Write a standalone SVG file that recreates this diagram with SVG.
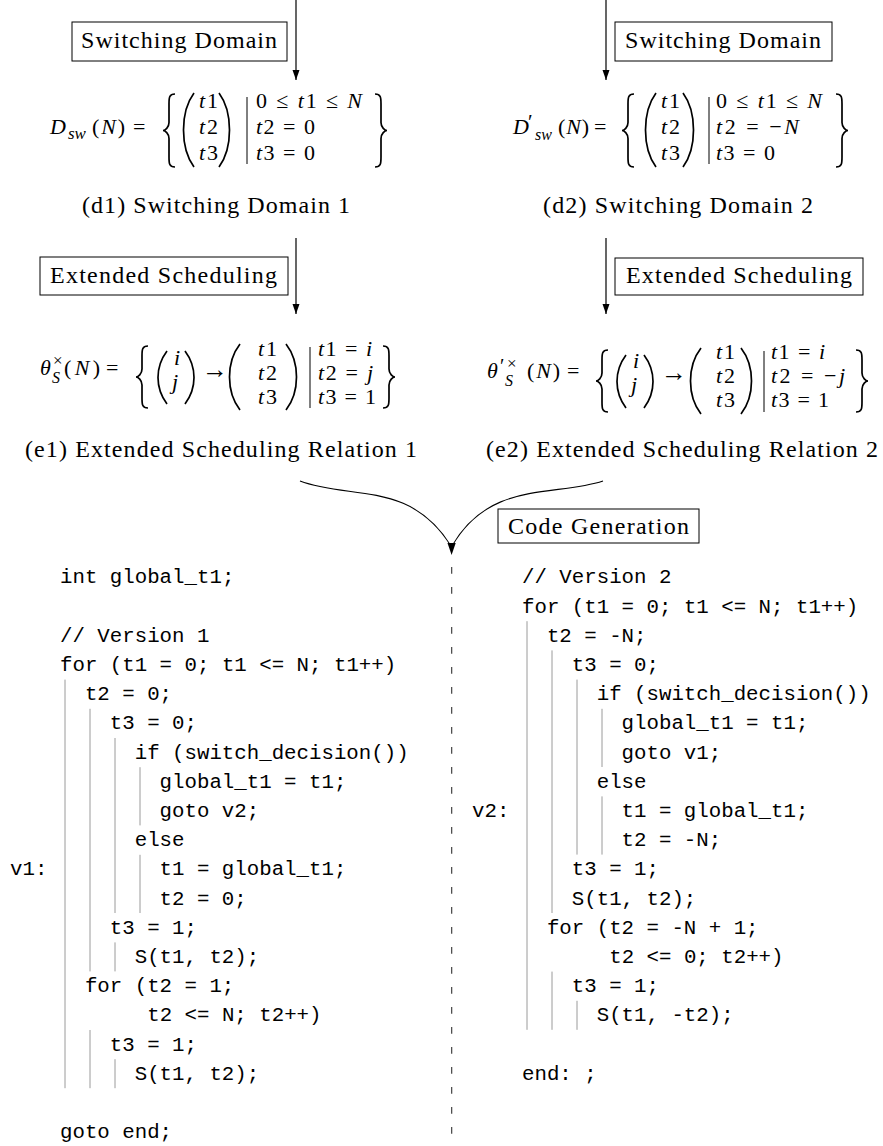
<svg xmlns="http://www.w3.org/2000/svg" width="883" height="1146" viewBox="0 0 883 1146">
<defs>
<style>
.t{font-family:"Liberation Serif","DejaVu Serif",serif;font-size:24px;fill:#000}
.m{font-family:"Liberation Serif","DejaVu Serif",serif;font-size:22px;fill:#000}
.i{font-style:italic}
.c{font-family:"Liberation Mono","DejaVu Sans Mono",monospace;font-size:20.75px;fill:#000}
.box{fill:#fff;stroke:#000;stroke-width:1}
.d{fill:none;stroke:#000;stroke-width:1.7}
.bar{stroke:#000;stroke-width:1}
.g{stroke:#9a9a9a;stroke-width:1}
.arr{fill:none;stroke:#000;stroke-width:1.2;marker-end:url(#ah)}
.cv{fill:none;stroke:#000;stroke-width:1.1}
</style>
<marker id="ah" markerUnits="userSpaceOnUse" markerWidth="11" markerHeight="8" refX="10" refY="3.5" orient="auto">
<path d="M0,0 L10,3.5 L0,7 Z" fill="#000"/>
</marker>
</defs>
<rect width="883" height="1146" fill="#fff"/>

<g id="connectors">
<path class="arr" d="M296,0 L296,80"/>
<path class="arr" d="M606,0 L606,80"/>
<path class="arr" d="M296,238 L296,314"/>
<path class="arr" d="M606,238 L606,314"/>
<path class="cv" d="M300,481 C350,500 410,480 451,546"/>
<path class="cv" d="M603,481 C555,497 490,480 452,546"/>
<path d="M447.5,543 L451.6,555 L455.7,543 Z" fill="#000"/>
<path d="M451.7,567 L451.7,1146" fill="none" stroke="#333" stroke-width="1.1" stroke-dasharray="6.7 13.3"/>
</g>

<g id="label-switching-1">
<rect class="box" x="72" y="22" width="215" height="39"/>
<text class="t" x="81" y="48" textLength="196">Switching Domain</text>
</g>
<g id="label-switching-2">
<rect class="box" x="615" y="22" width="217" height="39"/>
<text class="t" x="625" y="48" textLength="196">Switching Domain</text>
</g>

<g id="domain-1">
<text class="m" x="50" y="134"><tspan class="i">D</tspan><tspan class="i" x="68" y="139" font-size="17">sw</tspan></text>
<text class="m" x="92" y="134" textLength="33">(<tspan class="i">N</tspan>)</text>
<text class="m" x="133" y="134" textLength="15">=</text>
<path class="d" d="M175,94 C169,94 169,98 169,104 L169,122.5 C169,127.5 165,130.5 163,130.5 C165,130.5 169,133.5 169,138.5 L169,157 C169,163 169,167 175,167"/>
<path class="d" d="M194,93 C180,112 180,148 194,167"/>
<text class="m" x="199" y="108" textLength="19"><tspan class="i">t</tspan>1</text>
<text class="m" x="199" y="134" textLength="19"><tspan class="i">t</tspan>2</text>
<text class="m" x="199" y="160" textLength="19"><tspan class="i">t</tspan>3</text>
<path class="d" d="M219,93 C233,112 233,148 219,167"/>
<line class="bar" x1="247" y1="97" x2="247" y2="164"/>
<text class="m" x="256" y="108" textLength="106">0 ≤ <tspan class="i">t</tspan>1 ≤ <tspan class="i">N</tspan></text>
<text class="m" x="256" y="134" textLength="59"><tspan class="i">t</tspan>2 = 0</text>
<text class="m" x="256" y="160" textLength="59"><tspan class="i">t</tspan>3 = 0</text>
<path class="d" d="M375,94 C381,94 381,98 381,104 L381,122.5 C381,127.5 385,130.5 387,130.5 C385,130.5 381,133.5 381,138.5 L381,157 C381,163 381,167 375,167"/>
<text class="t" x="82" y="213" textLength="268">(d1) Switching Domain 1</text>
</g>

<g id="domain-2">
<text class="m" x="513" y="134"><tspan class="i">D</tspan><tspan x="528" y="129" font-size="21">′</tspan><tspan class="i" x="535" y="140" font-size="16">sw</tspan></text>
<text class="m" x="558" y="134" textLength="31">(<tspan class="i">N</tspan>)</text>
<text class="m" x="594" y="134" textLength="15">=</text>
<path class="d" d="M634,94 C628,94 628,98 628,104 L628,122.5 C628,127.5 624,130.5 622,130.5 C624,130.5 628,133.5 628,138.5 L628,157 C628,163 628,167 634,167"/>
<path class="d" d="M656,93 C642,112 642,148 656,167"/>
<text class="m" x="661" y="108" textLength="19"><tspan class="i">t</tspan>1</text>
<text class="m" x="661" y="134" textLength="19"><tspan class="i">t</tspan>2</text>
<text class="m" x="661" y="160" textLength="19"><tspan class="i">t</tspan>3</text>
<path class="d" d="M683,93 C697,112 697,148 683,167"/>
<line class="bar" x1="709" y1="97" x2="709" y2="164"/>
<text class="m" x="716" y="108" textLength="106">0 ≤ <tspan class="i">t</tspan>1 ≤ <tspan class="i">N</tspan></text>
<text class="m" x="716" y="134" textLength="83"><tspan class="i">t</tspan>2 = −<tspan class="i">N</tspan></text>
<text class="m" x="716" y="160" textLength="59"><tspan class="i">t</tspan>3 = 0</text>
<path class="d" d="M836,94 C842,94 842,98 842,104 L842,122.5 C842,127.5 846,130.5 848,130.5 C846,130.5 842,133.5 842,138.5 L842,157 C842,163 842,167 836,167"/>
<text class="t" x="543" y="213" textLength="270">(d2) Switching Domain 2</text>
</g>

<g id="label-scheduling-1">
<rect class="box" x="40" y="257" width="248" height="38"/>
<text class="t" x="50" y="283" textLength="227">Extended Scheduling</text>
</g>
<g id="label-scheduling-2">
<rect class="box" x="615" y="258" width="248" height="37"/>
<text class="t" x="626" y="283" textLength="226">Extended Scheduling</text>
</g>

<g id="schedule-1">
<text class="m" x="40" y="375"><tspan class="i">θ</tspan><tspan x="53" y="366" font-size="17">×</tspan><tspan class="i" x="52" y="383" font-size="16">S</tspan></text>
<text class="m" x="64" y="375" textLength="36">(<tspan class="i">N</tspan>)</text>
<text class="m" x="106" y="375" textLength="16">=</text>
<path class="d" d="M148,346 C142,346 142,350 142,356 L142,369 C142,374 138,377 136,377 C138,377 142,380 142,385 L142,398 C142,404 142,408 148,408"/>
<path class="d" d="M167,351 C155,367 155,388 167,404"/>
<text class="m i" x="174" y="365">i</text>
<text class="m i" x="172" y="389">j</text>
<path class="d" d="M185,351 C197,367 197,388 185,404"/>
<text class="m" x="202" y="378" style="font-size:26px" textLength="21">→</text>
<path class="d" d="M240,344 C226,362 226,392 240,410"/>
<text class="m" x="258" y="356" textLength="19"><tspan class="i">t</tspan>1</text>
<text class="m" x="258" y="380" textLength="19"><tspan class="i">t</tspan>2</text>
<text class="m" x="258" y="404" textLength="19"><tspan class="i">t</tspan>3</text>
<path class="d" d="M286,344 C300,362 300,392 286,410"/>
<line class="bar" x1="310" y1="347" x2="310" y2="408"/>
<text class="m" x="318" y="356" textLength="54"><tspan class="i">t</tspan>1 = <tspan class="i">i</tspan></text>
<text class="m" x="318" y="380" textLength="55"><tspan class="i">t</tspan>2 = <tspan class="i">j</tspan></text>
<text class="m" x="318" y="404" textLength="58"><tspan class="i">t</tspan>3 = 1</text>
<path class="d" d="M383,346 C389,346 389,350 389,356 L389,369 C389,374 393,377 395,377 C393,377 389,380 389,385 L389,398 C389,404 389,408 383,408"/>
<text class="t" x="25" y="457" textLength="392">(e1) Extended Scheduling Relation 1</text>
</g>

<g id="schedule-2">
<text class="m" x="487" y="378"><tspan class="i">θ</tspan><tspan x="500" y="373" font-size="20">′</tspan><tspan x="507" y="369" font-size="17">×</tspan><tspan class="i" x="505" y="386" font-size="16">S</tspan></text>
<text class="m" x="527" y="378" textLength="33">(<tspan class="i">N</tspan>)</text>
<text class="m" x="567" y="378" textLength="16">=</text>
<path class="d" d="M608,350 C602,350 602,354 602,360 L602,373 C602,378 598,381 596,381 C598,381 602,384 602,389 L602,402 C602,408 602,412 608,412"/>
<path class="d" d="M626,355 C614,371 614,392 626,408"/>
<text class="m i" x="633" y="368">i</text>
<text class="m i" x="631" y="392">j</text>
<path class="d" d="M644,355 C656,371 656,392 644,408"/>
<text class="m" x="661" y="381" style="font-size:26px" textLength="22">→</text>
<path class="d" d="M701,348 C687,366 687,396 701,414"/>
<text class="m" x="716" y="359" textLength="19"><tspan class="i">t</tspan>1</text>
<text class="m" x="716" y="383" textLength="19"><tspan class="i">t</tspan>2</text>
<text class="m" x="716" y="407" textLength="19"><tspan class="i">t</tspan>3</text>
<path class="d" d="M741,348 C755,366 755,396 741,414"/>
<line class="bar" x1="764" y1="351" x2="764" y2="412"/>
<text class="m" x="771" y="359" textLength="54"><tspan class="i">t</tspan>1 = <tspan class="i">i</tspan></text>
<text class="m" x="771" y="383" textLength="74"><tspan class="i">t</tspan>2 = −<tspan class="i">j</tspan></text>
<text class="m" x="771" y="407" textLength="58"><tspan class="i">t</tspan>3 = 1</text>
<path class="d" d="M856,350 C862,350 862,354 862,360 L862,373 C862,378 866,381 868,381 C866,381 862,384 862,389 L862,402 C862,408 862,412 856,412"/>
<text class="t" x="486" y="457" textLength="392">(e2) Extended Scheduling Relation 2</text>
</g>

<g id="label-codegen">
<rect class="box" x="498" y="509" width="201" height="34"/>
<text class="t" x="508" y="534" textLength="181">Code Generation</text>
</g>

<g id="code-version-1" xml:space="preserve">
<text class="c" x="60" y="583.3">int global_t1;</text>
<text class="c" x="60" y="641.7">// Version 1</text>
<text class="c" x="60" y="670.9">for (t1 = 0; t1 &lt;= N; t1++)</text>
<text class="c" x="84.9" y="700.1">t2 = 0;</text>
<text class="c" x="109.8" y="729.3">t3 = 0;</text>
<text class="c" x="134.7" y="758.5">if (switch_decision())</text>
<text class="c" x="159.6" y="787.7">global_t1 = t1;</text>
<text class="c" x="159.6" y="816.9">goto v2;</text>
<text class="c" x="134.7" y="846.1">else</text>
<text class="c" x="10" y="875.3">v1:</text>
<text class="c" x="159.6" y="875.3">t1 = global_t1;</text>
<text class="c" x="159.6" y="904.5">t2 = 0;</text>
<text class="c" x="109.8" y="933.7">t3 = 1;</text>
<text class="c" x="134.7" y="962.9">S(t1, t2);</text>
<text class="c" x="84.9" y="992.1">for (t2 = 1;</text>
<text class="c" x="147.2" y="1021.3">t2 &lt;= N; t2++)</text>
<text class="c" x="109.8" y="1050.5">t3 = 1;</text>
<text class="c" x="134.7" y="1079.7">S(t1, t2);</text>
<text class="c" x="60" y="1138.1">goto end;</text>
<line class="g" x1="65" y1="679.6" x2="65" y2="1088.2"/>
<line class="g" x1="90" y1="708.8" x2="90" y2="971.4"/>
<line class="g" x1="90" y1="1030" x2="90" y2="1088.2"/>
<line class="g" x1="115" y1="738" x2="115" y2="913"/>
<line class="g" x1="115" y1="942.4" x2="115" y2="971.4"/>
<line class="g" x1="115" y1="1059.2" x2="115" y2="1088.2"/>
<line class="g" x1="140" y1="767.2" x2="140" y2="825.4"/>
<line class="g" x1="140" y1="854.8" x2="140" y2="913"/>
</g>

<g id="code-version-2" xml:space="preserve">
<text class="c" x="522" y="583.3">// Version 2</text>
<text class="c" x="522" y="612.5">for (t1 = 0; t1 &lt;= N; t1++)</text>
<text class="c" x="546.9" y="641.7">t2 = -N;</text>
<text class="c" x="571.8" y="670.9">t3 = 0;</text>
<text class="c" x="596.7" y="700.1">if (switch_decision())</text>
<text class="c" x="621.6" y="729.3">global_t1 = t1;</text>
<text class="c" x="621.6" y="758.5">goto v1;</text>
<text class="c" x="596.7" y="787.7">else</text>
<text class="c" x="472" y="816.9">v2:</text>
<text class="c" x="621.6" y="816.9">t1 = global_t1;</text>
<text class="c" x="621.6" y="846.1">t2 = -N;</text>
<text class="c" x="571.8" y="875.3">t3 = 1;</text>
<text class="c" x="571.8" y="904.5">S(t1, t2);</text>
<text class="c" x="546.9" y="933.7">for (t2 = -N + 1;</text>
<text class="c" x="609.2" y="962.9">t2 &lt;= 0; t2++)</text>
<text class="c" x="571.8" y="992.1">t3 = 1;</text>
<text class="c" x="596.7" y="1021.3">S(t1, -t2);</text>
<text class="c" x="522" y="1079.7">end: ;</text>
<line class="g" x1="527" y1="621.2" x2="527" y2="1029.8"/>
<line class="g" x1="552" y1="650.4" x2="552" y2="913"/>
<line class="g" x1="552" y1="971.6" x2="552" y2="1029.8"/>
<line class="g" x1="577" y1="679.6" x2="577" y2="854.6"/>
<line class="g" x1="577" y1="1000.8" x2="577" y2="1029.8"/>
<line class="g" x1="602" y1="708.8" x2="602" y2="767"/>
<line class="g" x1="602" y1="796.4" x2="602" y2="854.6"/>
</g>
</svg>
